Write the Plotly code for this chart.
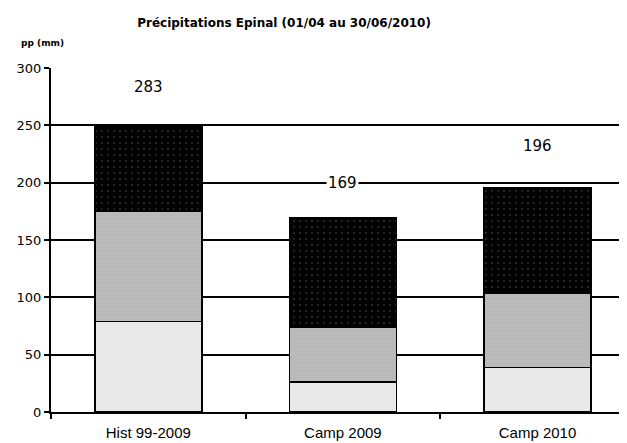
import plotly.graph_objects as go

# données (mm)
periodes = ["Hist 99-2009", "Camp 2009", "Camp 2010"]
pp_bas = [79, 26, 39]
pp_milieu = [96, 48, 65]
pp_haut = [75, 95, 92]
totaux = ["283", "169", "196"]
pos_totaux = [283, 200, 232]

fig = go.Figure()

# segments empilés avec trames pointillées
fig.add_trace(go.Bar(x=periodes, y=pp_bas,
                     marker=dict(color="white", line=dict(color="black", width=1.5),
                                 pattern=dict(shape=".", fgcolor="#8c8c8c", bgcolor="white",
                                              size=2, solidity=0.4)),
                     showlegend=False))
fig.add_trace(go.Bar(x=periodes, y=pp_milieu,
                     marker=dict(color="#a0a0a0", line=dict(color="black", width=1.5),
                                 pattern=dict(shape=".", fgcolor="#6e6e6e", bgcolor="#d4d4d4",
                                              size=2, solidity=0.6)),
                     showlegend=False))
fig.add_trace(go.Bar(x=periodes, y=pp_haut,
                     marker=dict(color="black", line=dict(color="black", width=1.5),
                                 pattern=dict(shape=".", fgcolor="#b0b0b0", bgcolor="black",
                                              size=6, solidity=0.05)),
                     showlegend=False))

for p, t, y in zip(periodes, totaux, pos_totaux):
    fig.add_annotation(x=p, y=y, text=t, showarrow=False, bgcolor="white",
                       font=dict(size=15, color="black"))

# la page ajoute 8 px de marge : on compense
fig.update_layout(
    barmode="stack",
    bargap=0.45,
    width=619, height=435,
    margin=dict(l=43, r=0, t=60, b=31),
    plot_bgcolor="white",
    paper_bgcolor="white",
    font=dict(family="DejaVu Sans, Arial", color="black"),
    title=dict(text="<b>Précipitations Epinal (01/04 au 30/06/2010)</b>",
               x=0.446, xanchor="center", y=0.967, yanchor="middle",
               font=dict(size=12)),
)

fig.add_annotation(text="<b>pp (mm)</b>", xref="paper", yref="paper",
                   x=-0.055, y=1.072, xanchor="left", yanchor="middle",
                   showarrow=False, font=dict(size=9))

fig.update_yaxes(range=[0, 300], dtick=50, showgrid=True, gridcolor="black", gridwidth=1.5,
                 showline=True, linecolor="black", linewidth=2,
                 ticks="outside", ticklen=5, tickwidth=2, tickcolor="black",
                 tickfont=dict(size=13), zeroline=False)
fig.update_xaxes(range=[-0.5, 2.46], showline=True, linecolor="black", linewidth=2,
                 ticks="outside", tickson="boundaries", ticklen=5, tickwidth=2,
                 tickcolor="black", ticklabelstandoff=6,
                 tickfont=dict(size=15, family="Liberation Sans, Arial"))

fig.write_html("out.html")
